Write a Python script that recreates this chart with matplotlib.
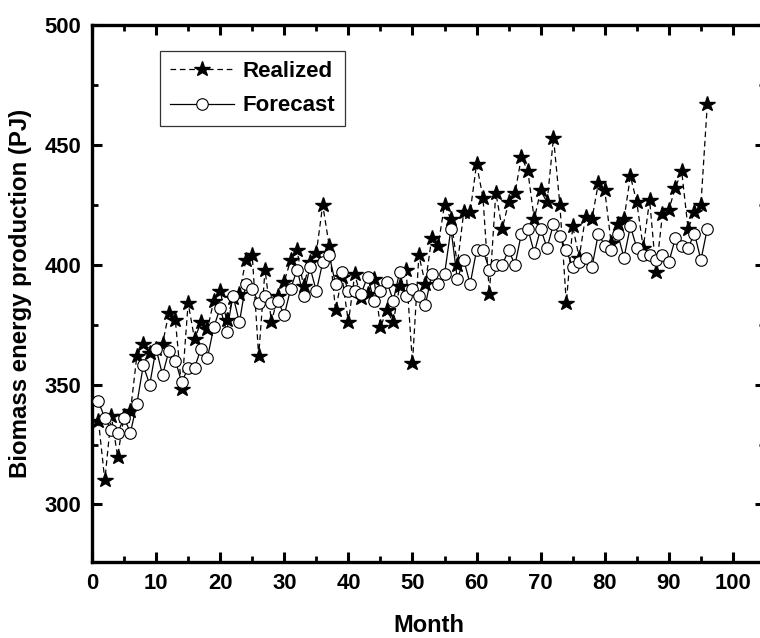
import matplotlib
matplotlib.use("Agg")
import matplotlib.pyplot as plt
from matplotlib.ticker import MultipleLocator

plt.rcParams['font.family'] = ['Liberation Sans', 'DejaVu Sans']
plt.rcParams['font.weight'] = 'bold'

months = list(range(1, 97))
realized = [335, 310, 337, 320, 337, 339, 362, 367, 363, 365,
            367, 380, 377, 348, 384, 369, 376, 373, 385, 389,
            377, 386, 388, 402, 404, 362, 398, 376, 387, 393,
            402, 406, 391, 401, 405, 425, 408, 381, 395, 376,
            396, 386, 388, 394, 374, 381, 376, 391, 398, 359,
            404, 392, 411, 408, 425, 419, 400, 422, 422, 442,
            428, 388, 430, 415, 426, 430, 445, 439, 419, 431,
            426, 453, 425, 384, 416, 403, 420, 419, 434, 431,
            409, 417, 419, 437, 426, 407, 427, 397, 421, 423,
            432, 439, 415, 422, 425, 467]
forecast = [343, 336, 331, 330, 336, 330, 342, 358, 350, 365,
            354, 364, 360, 351, 357, 357, 365, 361, 374, 382,
            372, 387, 376, 392, 390, 384, 387, 384, 385, 379,
            390, 398, 387, 399, 389, 401, 404, 392, 397, 389,
            389, 388, 395, 385, 389, 393, 385, 397, 387, 390,
            387, 383, 396, 392, 396, 415, 394, 402, 392, 406,
            406, 398, 400, 400, 406, 400, 413, 415, 405, 415,
            407, 417, 412, 406, 399, 401, 403, 399, 413, 408,
            406, 413, 403, 416, 407, 404, 404, 402, 404, 401,
            411, 408, 407, 413, 402, 415]

series_labels = ["Realized", "Forecast"]
x_label = "Month"
y_label = "Biomass energy production (PJ)"

W, H = 760, 638
fig = plt.figure(figsize=(W / 100, H / 100), dpi=100)
left_px, right_px, top_px, bottom_px = 92, 765, 25, 562
ax = fig.add_axes([left_px / W, (H - bottom_px) / H,
                   (right_px - left_px) / W, (bottom_px - top_px) / H])

ax.plot(months, realized, color='black', linestyle=(0, (4.5, 3)), linewidth=0.9,
        marker='*', markersize=11.5, markerfacecolor='black', markeredgecolor='black',
        label=series_labels[0], zorder=2)
ax.plot(months, forecast, color='black', linestyle='-', linewidth=0.9,
        marker='o', markersize=8.3, markerfacecolor='white', markeredgecolor='black',
        markeredgewidth=0.8, label=series_labels[1], zorder=3)

ax.set_xlim(0, 105)
ax.set_ylim(276, 500)
ax.xaxis.set_major_locator(MultipleLocator(10))
ax.xaxis.set_minor_locator(MultipleLocator(5))
ax.yaxis.set_major_locator(MultipleLocator(50))
ax.yaxis.set_minor_locator(MultipleLocator(25))
ax.set_xticks(range(0, 101, 10))

ax.tick_params(which='major', direction='in', length=7.5, width=2.2,
               top=True, right=True, labelsize=15.8, pad=8)
ax.tick_params(which='minor', direction='in', length=4, width=2.0,
               top=True, right=True)
for lab in ax.get_xticklabels() + ax.get_yticklabels():
    lab.set_fontweight('bold')
for sp in ax.spines.values():
    sp.set_linewidth(2.4)

ax.set_xlabel(x_label, fontsize=17, fontweight='bold', labelpad=14)
ax.set_ylabel(y_label, fontsize=17.3, fontweight='bold', labelpad=9)

leg = ax.legend(loc='upper left',
                bbox_to_anchor=((160 - left_px) / (right_px - left_px),
                                (bottom_px - 51) / (bottom_px - top_px)),
                borderaxespad=0, fancybox=False, frameon=True, edgecolor='black',
                handlelength=2.9, handletextpad=0.35,
                borderpad=0.45, labelspacing=0.6, prop={'weight': 'bold', 'size': 16})
leg.get_frame().set_linewidth(0.9)

fig.savefig("out.png", dpi=100)
